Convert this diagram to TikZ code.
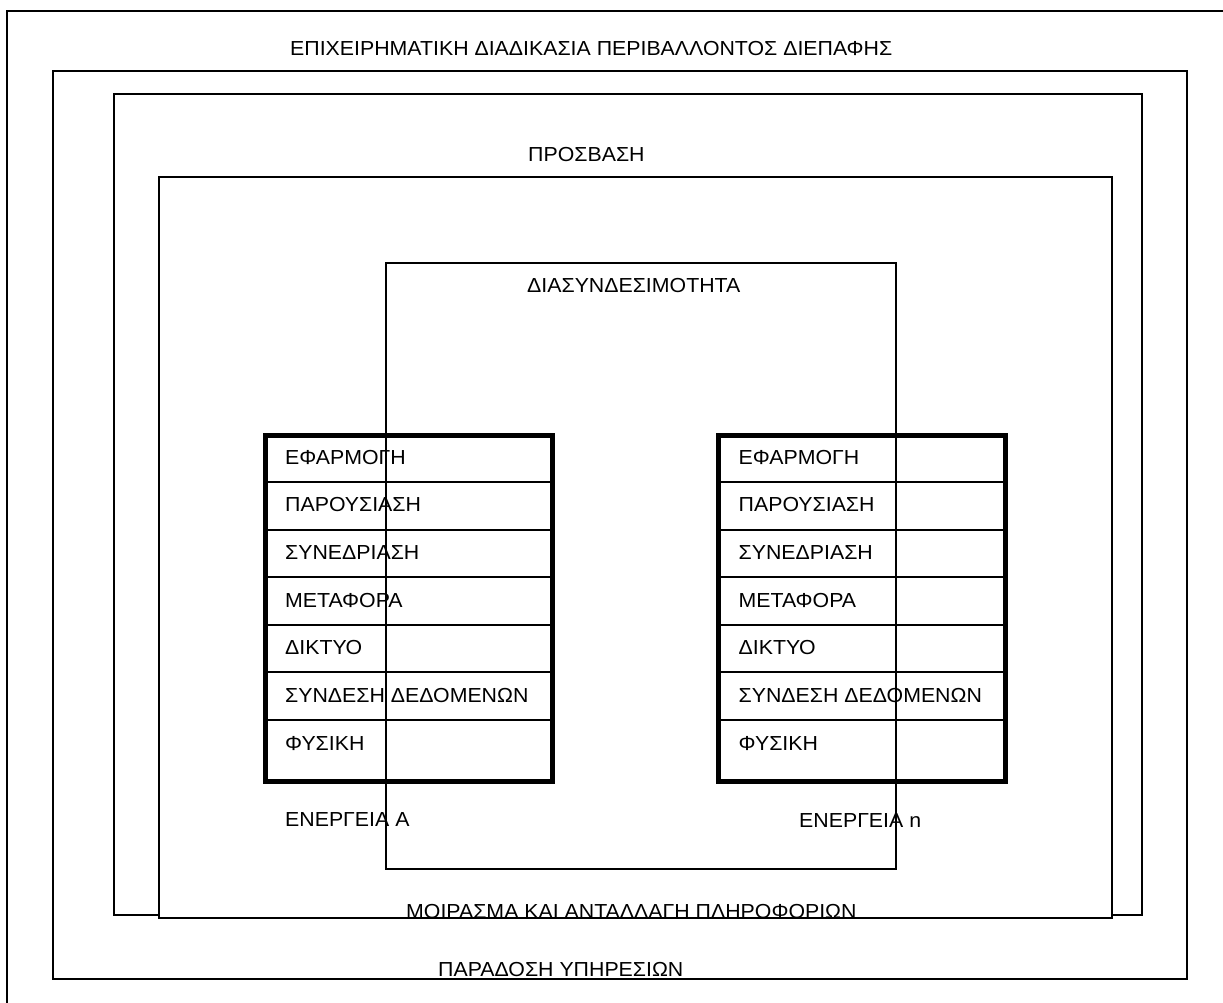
\documentclass[tikz,border=0pt]{standalone}
\usepackage{fontspec}
\setmainfont{Liberation Sans}[FakeStretch=1.05]
\begin{document}
\begin{tikzpicture}[x=1pt,y=-1pt,
  frame/.style={draw=black,line width=1.6pt},
  stackframe/.style={draw=black,line width=5pt},
  rowline/.style={draw=black,line width=1.8pt},
  label/.style={anchor=base west,inner sep=0pt,font=\fontsize{20.3}{24}\selectfont}]
\useasboundingbox (0,0) rectangle (1223,1003);
% outermost frame, running past the page edge on the right and bottom
\begin{scope}
  \clip (0,0) rectangle (1223,1003);
  \draw[frame] (7,11) rectangle (1240,1020);
\end{scope}
% nested layers
\draw[frame] (53,71) rectangle (1187,979);
\draw[frame] (114,94) rectangle (1142,915);
\draw[frame,fill=white] (159,177) rectangle (1112,918);
% protocol stacks
\foreach \x/\s in {265/A, 718.5/B}{
  \draw[rowline] (\x,481.7) -- ++(286.5,0)
                 (\x,530)   -- ++(286.5,0)
                 (\x,577.3) -- ++(286.5,0)
                 (\x,625)   -- ++(286.5,0)
                 (\x,672.3) -- ++(286.5,0)
                 (\x,720)   -- ++(286.5,0);
  \draw[stackframe] (\x,435) rectangle ++(287,346.5);
  \foreach \t [count=\i from 0] in {ΕΦΑΡΜΟΓΗ, ΠΑΡΟΥΣΙΑΣΗ, ΣΥΝΕΔΡΙΑΣΗ, ΜΕΤΑΦΟΡΑ, ΔΙΚΤΥΟ, ΣΥΝΔΕΣΗ ΔΕΔΟΜΕΝΩΝ, ΦΥΣΙΚΗ}
    \node[label] (layer\s\i) at (\x+20,464+47.7*\i) {\t};
}
% connectivity layer
\draw[frame] (386,263) rectangle (896,869);
% titles
\node[label] (business) at (290,56) {ΕΠΙΧΕΙΡΗΜΑΤΙΚΗ ΔΙΑΔΙΚΑΣΙΑ ΠΕΡΙΒΑΛΛΟΝΤΟΣ ΔΙΕΠΑΦΗΣ};
\node[label] (access) at (528,162) {ΠΡΟΣΒΑΣΗ};
\node[label] (connect) at (527,292) {ΔΙΑΣΥΝΔΕΣΙΜΟΤΗΤΑ};
\node[label] (actA) at (285,826) {ΕΝΕΡΓΕΙΑ Α};
\node[label] (actN) at (799,827) {ΕΝΕΡΓΕΙΑ n};
\node[label] (share) at (406,918) {ΜΟΙΡΑΣΜΑ ΚΑΙ ΑΝΤΑΛΛΑΓΗ ΠΛΗΡΟΦΟΡΙΩΝ};
\node[label] (deliver) at (438,976) {ΠΑΡΑΔΟΣΗ ΥΠΗΡΕΣΙΩΝ};
\end{tikzpicture}
\end{document}
